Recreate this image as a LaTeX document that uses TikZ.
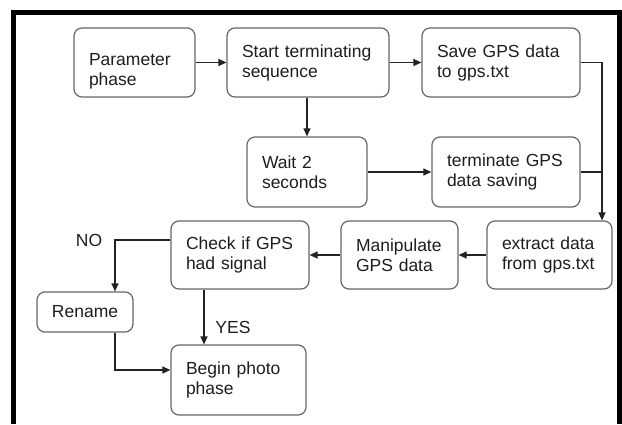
\documentclass[tikz,border=0pt]{standalone}
\usepackage{fontspec}
\setmainfont{Liberation Sans}
\usetikzlibrary{arrows.meta}
\definecolor{boxline}{HTML}{666666}
\definecolor{txt}{HTML}{1E1E1E}
\definecolor{conn}{HTML}{222222}
\begin{document}
\begin{tikzpicture}[x=1pt,y=-1pt,
  font=\fontsize{17.5}{20}\selectfont,
  stepbox/.style={draw=boxline, line width=1.2pt, rounded corners=8pt, text=txt,
    inner sep=0pt, align=left, minimum height=69pt},
  conn/.style={draw=conn, line width=1.2pt},
  arr/.style={conn, -{Triangle[length=8pt,width=7pt]}},
  lbl/.style={text=txt, inner sep=0pt}]
\useasboundingbox (0,0) rectangle (622,424);
\fill[white] (0,0) rectangle (622,424);
\draw[line width=5pt] (13.5,424) -- (13.5,12.5) -- (619.5,12.5) -- (619.5,424);

\node[stepbox, minimum width=121pt, text width=91pt, text height=28.7pt] (param) at (134.5,62.5) {Parameter\\phase};
\node[stepbox, minimum width=162pt, text width=132pt] (start) at (308,62.5) {Start terminating\\sequence};
\node[stepbox, minimum width=158pt, text width=128pt] (save) at (501,62.5) {Save GPS data\\to gps.txt};
\node[stepbox, minimum width=120pt, text width=90pt, minimum height=70pt] (wait) at (307,172) {Wait 2\\seconds};
\node[stepbox, minimum width=148pt, text width=118pt, minimum height=70pt] (term) at (506,172) {terminate GPS\\data saving};
\node[stepbox, minimum width=125pt, text width=95pt, minimum height=68pt] (extract) at (549.5,255) {extract data\\from gps.txt};
\node[stepbox, minimum width=117pt, text width=87pt, minimum height=68pt] (manip) at (399.5,255) {Manipulate\\GPS data};
\node[stepbox, minimum width=138pt, text width=108pt, minimum height=68pt] (check) at (240,255) {Check if GPS\\had signal};
\node[stepbox, minimum width=96pt, text width=66pt, minimum height=40pt] (rename) at (85,312) {Rename};
\node[stepbox, minimum width=135pt, text width=105pt, minimum height=70pt] (begin) at (238.5,380) {Begin photo\\phase};

\coordinate (rx) at (602,60);
\coordinate (nox) at (115,240);
\coordinate (yx) at (204,300);
\coordinate (rb) at (115,370);

\draw[arr] (param.east) -- (start.west);
\draw[arr] (start.east) -- (save.west);
\draw[arr] (wait.north |- start.south) -- (wait.north);
\draw[arr] (wait.east) -- (term.west);
\draw[arr] (save.east) -- (save.east -| rx) -- (rx |- extract.north);
\draw[conn] (term.east) -- (term.east -| rx);
\draw[arr] (extract.west) -- (manip.east);
\draw[arr] (manip.west) -- (check.west -| check.east);
\draw[arr] (check.west |- nox) -- (nox) -- (nox |- rename.north);
\draw[arr] (yx |- check.south) -- (yx |- begin.north);
\draw[arr] (nox |- rename.south) -- (rb) -- (begin.west |- rb);

\node[lbl] (no) at (89,240) {NO};
\node[lbl] (yes) at (233,327) {YES};
\end{tikzpicture}
\end{document}
